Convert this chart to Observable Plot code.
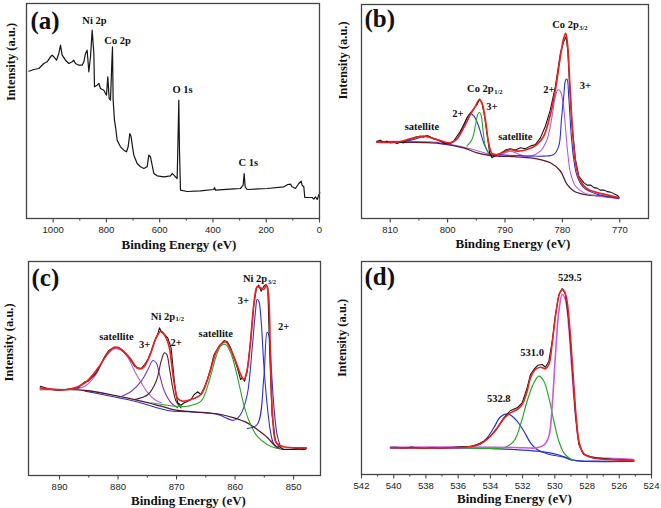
<!DOCTYPE html>
<html><head><meta charset="utf-8">
<script src="https://cdn.jsdelivr.net/npm/d3@7"></script>
<script src="https://cdn.jsdelivr.net/npm/@observablehq/plot@0.6"></script>
<style>
body{margin:0;background:#fff;}
#wrap{position:relative;width:661px;height:508px;background:#fff;overflow:hidden;}
#wrap svg{position:absolute;}
</style></head><body><div id="wrap"></div>
<script>
// ---------- Panel (a): survey spectrum [BE, intensity] ----------
const survey = [[1091.2,147.3],[1072.5,149],[1053.7,150],[1034.9,155],[1022.4,156.7],[1009.9,161.7],[1003.6,163.3],[997.4,161.7],[987.4,158.3],[978.6,165],[972.4,173.3],[966.1,163.3],[953.6,158.3],[941.1,155],[928.6,156.7],[922.3,158.3],[916.1,155],[903.5,153.3],[891.0,153.3],[884.8,156.7],[878.5,165],[872.3,168.3],[866.0,146.7],[859.7,161.7],[853.5,188.3],[847.2,165],[844.7,131.7],[834.7,133.3],[828.5,135],[822.2,130],[809.7,128.3],[799.7,123.3],[794.7,141.7],[789.7,120],[784.7,118.3],[779.7,155],[777.2,171.7],[774.7,118.3],[769.7,98.3],[765.9,91.7],[759.6,78.3],[747.1,71.7],[734.6,68.3],[724.6,66.7],[718.4,71.7],[712.1,85],[707.1,81.7],[702.1,71.7],[697.1,63.3],[684.6,55],[672.1,51.7],[659.5,50],[647.0,51.7],[640.8,63.3],[634.5,61.7],[628.3,53.3],[622.0,45],[609.5,42.7],[584.5,41.7],[559.4,42.7],[553.2,45],[546.9,43.3],[534.4,40],[530.7,85],[528.2,118.3],[525.7,68.3],[521.9,28.3],[496.9,27],[446.8,27.7],[396.8,29],[394.3,31],[390.5,28.3],[321.7,29.7],[296.7,30],[286.7,33.3],[282.9,45],[279.1,31.7],[271.6,29],[196.5,30],[134.0,31.7],[118.9,34],[109.0,34.3],[102.7,31.7],[90.2,30],[77.7,35],[68.9,37.3],[65.2,33.3],[58.9,31.7],[55.2,21],[27.6,21],[21.4,19.3],[15.1,21.7],[8.9,19],[2.6,23.3],[-1.1,25.7]];
const aLabels = [{x:845,y:198,t:"Ni 2p"},{x:758,y:178,t:"Co 2p"},{x:514,y:129,t:"O 1s"},{x:267,y:56,t:"C 1s"}];
const aMajor = [1000,800,600,400,200,0], aMinor = [900,700,500,300,100];

// ---------- Panel (b): Co 2p ----------
const bData = [[812.33,77.7],[811.74,78.7],[811.16,76.7],[810.58,77.7],[810,76],[809.42,77],[808.84,75.3],[808.26,76.7],[807.67,76],[807.09,78.7],[806.51,79.3],[805.93,81],[805.35,82],[804.77,82.7],[804.19,81.7],[803.60,83.3],[803.02,82],[802.44,80],[801.86,79.3],[801.28,77.7],[800.70,76],[800.12,75.3],[799.53,76],[798.95,77.7],[798.37,82.7],[797.79,87.7],[797.21,93.3],[796.63,101],[796.05,106],[795.47,110],[794.88,114.3],[794.42,120],[794.01,116],[793.60,104.3],[793.14,86],[792.67,66],[792.27,61],[791.69,63.3],[790.81,65.3],[789.94,68.7],[789.07,70],[788.20,68.7],[787.33,71],[786.45,70],[785.58,72.7],[784.71,74.3],[783.84,81],[782.97,92.7],[782.09,109.3],[781.22,132.7],[780.35,166],[779.77,177.7],[779.36,182.7],[779.07,169.3],[778.72,132.7],[778.31,92.7],[777.73,59.3],[777.15,42.7],[776.28,36],[775.70,33.5],[775.12,33.7],[774.5,31],[773.95,30.5],[773.4,28.5],[772.79,28.7],[772.2,27],[771.63,26.5],[770.47,23.3],[770.17,22]];
const bFit = [[812.33,76.7],[808.84,76.7],[806.51,80],[804.19,82.7],[801.86,79.3],[799.53,76],[798.37,80],[797.21,91],[796.05,104.3],[795.17,112.7],[794.48,119.3],[794.01,116],[793.43,99.3],[792.85,76],[792.27,65.3],[791.40,64.3],[790.23,66.7],[789.07,69.3],[787.91,67.7],[786.16,69.3],[784.42,74.3],[783.26,82.7],[782.09,104.3],[781.22,129.3],[780.35,162.7],[779.77,181],[779.42,186],[779.07,172.7],[778.72,136],[778.20,86],[777.62,52.7],[776.86,37.7],[775.70,30],[773.95,26],[772.21,23.7],[770.17,21]];
const bBg = [[812.33,76.7],[801.28,75.3],[797.21,71],[794.88,66],[792.56,63.3],[787.91,62],[784.42,60],[782.09,56],[780.35,47.7],[779.19,34.3],[778.02,27.7],[776.28,24.3],[773.37,22.7],[770.17,21]];
const bBgViolet = [[812.33,77.3],[801.28,76],[796.05,70],[792.56,64]];
const bSat1 = [[808.84,76],[805.93,79.3],[803.90,82.7],[801.86,79.3],[800.12,75.3]];
const bSat2 = [[791.40,62.7],[790.23,65.3],[789.07,67.7],[787.91,65.3],[786.74,62.7]];
const bP12two = [[801.28,75.3],[799.53,75.3],[798.37,80],[797.21,94.3],[796.05,105.3],[795.47,103.3],[794.59,92.7],[793.72,76],[792.85,66],[791.98,62.7]];
const bP12three = [[796.63,72.7],[795.76,79.3],[795.17,92.7],[794.77,104.3],[794.48,106.7],[794.19,104.3],[793.84,89.3],[793.43,72.7],[792.85,65.3]];
const bP32two = [[787.91,62.7],[785.58,62.7],[783.84,67.7],[782.67,79.3],[781.80,102.7],[781.22,122.7],[780.76,129.3],[780.35,127.7],[779.88,116],[779.48,92.7],[779.07,66],[778.60,46],[777.73,32.7],[776.28,26],[773.95,22.7],[770.17,20.3]];
const bP32three = [[792.56,64.3],[787.91,63.3],[783.26,62.7],[781.51,64.3],[780.64,72.7],[780.17,99.3],[779.77,122.7],[779.42,139.3],[779.19,140],[778.90,122.7],[778.49,86],[778.02,59.3],[777.44,42.7],[776.28,31],[773.95,24.3],[770.17,20]];
const bLabels = [{x:804.48,y:92.7,t:"satellite"},{x:798.2,y:105.3,t:"2+"},{x:792.27,y:112.7,t:"3+"},{x:788.2,y:82,t:"satellite"},{x:782.38,y:129.3,t:"2+"},{x:775.99,y:133.3,t:"3+"}];
const bSubLabels = [{x:791.98,y:130,t:"Co 2p",s:"1/2"},{x:777.15,y:194.3,t:"Co 2p",s:"3/2"}];
const bMajor = [810,800,790,780,770], bMinor = [805,795,785,775];

// ---------- Panel (c): Ni 2p ----------
const cData = [[893.28,89.3],[892.43,87.7],[891.30,86],[890.17,85],[889.04,86],[887.91,87],[886.78,87.7],[886.21,91],[885.64,93.7],[885.08,94.3],[884.51,97.7],[883.95,101],[883.38,106],[882.81,112.7],[882.25,119.3],[881.68,124.3],[881.12,126.7],[880.55,127.7],[879.99,128.3],[879.42,126],[878.85,122.7],[878.29,119.3],[877.72,114.3],[877.16,109.3],[876.59,107.7],[876.03,107],[875.46,111],[874.89,116],[874.33,124.3],[873.76,134.3],[873.20,141.7],[872.91,147.7],[872.63,143.7],[872.07,141],[871.50,137.7],[870.93,127.7],[870.65,111],[870.37,94.3],[870.08,81],[869.80,72.7],[869.24,70.3],[868.67,72.7],[868.10,74.3],[867.54,76],[866.97,81],[866.41,83.7],[865.84,81],[865.28,87.7],[864.71,96],[864.14,107.7],[863.58,121],[862.73,129.3],[861.88,135],[861.32,133.7],[860.75,127.7],[860.18,117.7],[859.62,107.7],[859.05,96],[858.77,97.7],[858.37,94.3],[857.92,104.3],[857.35,134.3],[856.79,171],[856.34,187.7],[855.94,190.3],[855.54,184.3],[855.09,189.3],[854.70,191],[854.41,187.7],[854.07,121],[853.68,61],[853.11,34.3],[852.55,29.3],[851.70,26],[850.57,26],[849.43,27],[848.30,26],[847.85,26.7]];
const cFit = [[893.28,87.7],[888.47,86],[885.64,92.7],[883.38,107.7],[881.68,122.7],[880.55,128.3],[879.42,126],[878.01,117.7],[876.59,107],[875.74,107.7],[874.61,119.3],[873.48,137.7],[872.63,144.3],[871.78,137.7],[871.22,127.7],[870.82,111],[870.37,91],[869.80,77],[868.95,74.3],[867.54,76],[865.84,81],[864.43,101],[863.30,122.7],[862.44,131],[861.60,133.7],[860.75,126],[859.90,114.3],[859.05,101],[858.49,96],[857.92,106],[857.35,134.3],[856.79,171],[856.22,188.7],[855.66,187.7],[855.09,186],[854.70,190.3],[854.36,184.3],[853.96,121],[853.56,57.7],[852.94,32.7],[851.70,28.7],[847.85,27.7]];
const cSat1 = [[893.28,86],[888.47,86],[885.64,89.3],[883.95,99.3],[882.25,117.7],[880.55,126.7],[879.42,125],[878.29,117.7],[877.16,104.3],[876.03,92.7],[874.89,82.7],[873.76,76],[872.63,72.7]];
const cP12three = [[879.99,77.7],[877.72,84.3],[876.03,94.3],[874.89,106],[874.05,115],[873.48,112.7],[872.91,101],[872.07,84.3],[870.93,72.7],[869.80,67.7]];
const cP12two = [[877.16,76],[874.89,81],[873.48,94.3],[872.63,114.3],[872.07,122.7],[871.67,121],[871.22,107.7],[870.65,87.7],[870.08,74.3],[869.24,67.7]];
const cSat2 = [[874.33,72.7],[870.37,69.3],[868.10,69.3],[865.84,74.3],[864.43,94.3],[863.30,117.7],[862.44,129.3],[861.60,131],[860.75,122.7],[859.90,106],[859.05,84.3],[858.20,64.3],[857.35,51],[856.22,39.3],[854.52,31],[852.83,27]];
const cP32three = [[885.64,84.3],[877.16,74.3],[871.50,65],[868.10,63.7],[863.01,61],[860.18,55.3],[859.05,61],[857.92,81],[857.07,127.7],[856.51,164.3],[856.22,176],[855.94,174.3],[855.54,154.3],[855.09,111],[854.52,71],[853.96,44.3],[853.39,31.7],[852.55,27.7]];
const cP32two = [[857.92,47],[856.22,51],[855.09,97.7],[854.52,143.3],[854.24,141],[853.85,111],[853.39,71],[852.83,41],[852.26,29.3]];
const cBg = [[893.28,86],[885.64,85],[879.99,79.3],[876.03,74.3],[872.63,69.3],[869.80,65],[866.97,63.7],[863.01,61.7],[860.18,57.7],[857.92,52.7],[856.22,46],[854.52,38.3],[853.39,31],[852.55,27],[847.85,27]];
const cLabels = [{x:880.27,y:139.3,t:"satellite"},{x:875.46,y:131,t:"3+"},{x:870.08,y:132.7,t:"2+"},{x:863.30,y:141.7,t:"satellite"},{x:858.60,y:175,t:"3+"},{x:851.70,y:149.3,t:"2+"}];
const cSubLabels = [{x:870.25,y:159.3,t:"Ni 2p",s:"1/2"},{x:854.52,y:197,t:"Ni 2p",s:"3/2"}];
const cMajor = [890,880,870,860,850], cMinor = [885,875,865,855];

// ---------- Panel (d): O 1s ----------
const dData = [[540.20,27.3],[539.79,27.3],[539.5,26.5],[539.17,26.7],[538.9,27.5],[538.54,26.7],[538.1,26],[537.72,26.7],[537.10,26.3],[536.48,27],[535.65,28],[535.23,28.3],[534.82,30],[534.41,33.3],[533.99,38.3],[533.58,46.7],[533.17,56.7],[532.75,64],[532.34,66.7],[532.03,71.7],[531.72,86.7],[531.51,100],[531.30,105],[531.05,109.3],[530.79,110],[530.58,107.3],[530.37,113.3],[530.16,133.3],[529.96,160],[529.75,180],[529.54,186],[529.34,180],[529.13,153.3],[528.92,106.7],[528.72,60],[528.51,30],[528.20,20],[527.79,17.7],[527.37,16.7],[526.34,15],[525.30,14.3],[525.10,14]];
const dFit = [[540.20,26.7],[535.65,27.3],[534.82,29.3],[534.41,32.7],[533.99,38.3],[533.58,46],[533.17,55.7],[532.75,61.7],[532.34,65],[532.03,70],[531.72,83.3],[531.51,96.7],[531.20,105],[530.89,107.3],[530.58,105.7],[530.37,110],[530.16,131.7],[529.96,158.3],[529.69,181.7],[529.50,185],[529.30,178.3],[529.09,150],[528.88,103.3],[528.67,56.7],[528.47,30],[528.20,20.7],[527.68,16.7],[526.75,15],[525.10,14]];
const dP1 = [[540.20,26.7],[536.68,26.7],[535.23,27.3],[534.61,30.7],[534.20,36.7],[533.79,46.7],[533.37,57.7],[532.96,60.7],[532.65,58.3],[532.34,53.3],[531.92,43.3],[531.51,31.7],[531.10,25],[530.48,20.7],[529.44,17.3],[528.82,14],[525.10,13.3]];
const dP2 = [[535.65,26.7],[533.99,26],[533.17,26.7],[532.54,33.3],[532.13,50],[531.72,73.3],[531.30,91.7],[530.99,98.3],[530.68,93.3],[530.37,76.7],[530.06,53.3],[529.75,33.3],[529.44,21.7],[529.13,16.7],[528.82,14]];
const dP3 = [[540.20,27.3],[533.58,27.3],[531.92,26.7],[531.10,26.7],[530.68,29.3],[530.37,38.3],[530.16,70],[529.96,120],[529.75,163.3],[529.54,180],[529.34,175],[529.13,146.7],[528.92,100],[528.72,60],[528.51,33.3],[528.20,20.7],[527.68,17.3],[526.34,16],[525.10,15]];
const dBg = [[540.20,26.7],[535.65,26.7],[532.54,25],[531.10,23.3],[529.85,20],[528.82,14.3],[527.37,13.3],[525.10,13.3]];
const dLabels = [{x:533.48,y:76,t:"532.8"},{x:531.41,y:121.7,t:"531.0"},{x:529.07,y:196.7,t:"529.5"}];
const dMajor = [542,540,538,536,534,532,530,528,526,524], dMinor = [541,539,537,535,533,531,529,527,525];

// ---------- drawing ----------
const SERIF = "'Liberation Serif','Times New Roman',serif";
const SANS = "'Liberation Sans',Arial,sans-serif";
const C = {red:"#e8231f", black:"#151515", blue:"#2b33c8", green:"#2aa52a", violet:"#b35ce0", dviolet:"#7436c8", maroon:"#5b1830", magenta:"#c95ad8", lav:"#8c7ad8"};

function line(data, color, w = 1.1, curve = "catmull-rom") {
  return Plot.line(data, {x: d => d[0], y: d => d[1], stroke: color, strokeWidth: w, curve});
}
function labels(arr) {
  return Plot.text(arr, {x: "x", y: "y", text: "t", fontFamily: SERIF, fontWeight: "bold", fontSize: 10.5, fill: "#111", lineAnchor: "middle"});
}
function subLabels(arr) {
  return [
    Plot.text(arr, {x: "x", y: "y", text: "t", textAnchor: "end", fontFamily: SERIF, fontWeight: "bold", fontSize: 10.5, fill: "#111", lineAnchor: "middle"}),
    Plot.text(arr, {x: "x", y: "y", text: "s", textAnchor: "start", dx: 0.5, dy: 3, fontFamily: SERIF, fontWeight: "bold", fontSize: 6.5, fill: "#111", lineAnchor: "middle"})
  ];
}

function panel(p) {
  const [mt, mr, mb, ml] = p.margins;
  const marks = [
    ...p.layers,
    Plot.frame({stroke: "#444", strokeWidth: 1.3}),
    Plot.axisX({ticks: p.minor, tickSize: 2.5, tickFormat: () => "", stroke: "#444", strokeWidth: 1.1, label: null}),
    Plot.axisX({ticks: p.major, tickSize: 4.5, tickPadding: 3, tickFormat: d => String(d), fontSize: 9.5, fontFamily: SANS, stroke: "#444", strokeWidth: 1.1, fill: "#222", label: null}),
    Plot.text([p.tag], {text: d => d, frameAnchor: "top-left", textAnchor: "start", lineAnchor: "middle", dx: p.tagPos[0], dy: p.tagPos[1], fontFamily: SERIF, fontWeight: "bold", fontSize: 25, fill: "#111"}),
    Plot.text(["Intensity (a.u.)"], {text: d => d, frameAnchor: "left", rotate: -90, lineAnchor: "middle", dx: p.yLab[0], dy: p.yLab[1], fontFamily: SERIF, fontWeight: "bold", fontSize: 12.5, fill: "#111"}),
    Plot.text(["Binding Energy (eV)"], {text: d => d, frameAnchor: "bottom", lineAnchor: "middle", dx: p.xLab[0], dy: p.xLab[1], fontFamily: SERIF, fontWeight: "bold", fontSize: 13, fill: "#111"})
  ];
  const svg = Plot.plot({
    width: p.width, height: p.height,
    marginTop: mt, marginRight: mr, marginBottom: mb, marginLeft: ml,
    x: {domain: p.xDomain, axis: null},
    y: {domain: p.yDomain, axis: null},
    style: {background: "transparent", overflow: "visible"},
    marks
  });
  svg.style.left = p.left + "px";
  svg.style.top = p.top + "px";
  document.getElementById("wrap").appendChild(svg);
}

panel({
  left: 0, top: 0, width: 330, height: 254, margins: [3, 11, 36, 26],
  xDomain: [1100, 0], yDomain: [0, 215], major: aMajor, minor: aMinor,
  tag: "(a)", tagPos: [4, 17], yLab: [-16, -10], xLab: [6, 26],
  layers: [line(survey, C.black, 1.2, "linear"), labels(aLabels)]
});

panel({
  left: 330, top: 0, width: 331, height: 254, margins: [4, 13, 36, 31],
  xDomain: [815, 765], yDomain: [0, 215], major: bMajor, minor: bMinor,
  tag: "(b)", tagPos: [3, 14], yLab: [-19, -12], xLab: [8, 25],
  layers: [
    line(bBgViolet, C.violet), line(bBg, C.maroon, 1.3),
    line(bSat1, C.blue), line(bSat2, C.violet),
    line(bP12two, C.blue), line(bP12three, C.green),
    line(bP32two, C.violet), line(bP32three, C.blue),
    line(bData, C.black, 1.1, "linear"), line(bFit, C.red, 1.7),
    labels(bLabels), ...subLabels(bSubLabels)
  ]
});

panel({
  left: 0, top: 254, width: 330, height: 254, margins: [7, 10, 33, 28],
  xDomain: [895.3, 845.4], yDomain: [0, 214], major: cMajor, minor: cMinor,
  tag: "(c)", tagPos: [3, 16], yLab: [-20, 13], xLab: [14, 25],
  layers: [
    line(cP32three, C.blue), line(cBg, C.maroon, 1.3),
    line(cSat1, C.violet), line(cP12three, C.dviolet), line(cP12two, C.maroon),
    line(cSat2, C.green), line(cP32two, C.blue),
    line(cData, C.black, 1.1, "linear"), line(cFit, C.red, 1.7),
    labels(cLabels), ...subLabels(cSubLabels)
  ]
});

panel({
  left: 330, top: 254, width: 331, height: 254, margins: [7, 10, 34, 31],
  xDomain: [542, 524], yDomain: [0, 213], major: dMajor, minor: dMinor,
  tag: "(d)", tagPos: [3, 15], yLab: [-20, 9], xLab: [8, 24],
  layers: [
    line(dBg, C.blue, 1.2), line(dP1, C.blue, 1.2), line(dP2, C.green, 1.2), line(dP3, C.magenta, 1.6),
    line(dData, C.black, 1.1, "linear"), line(dFit, C.red, 1.6),
    labels(dLabels)
  ]
});
</script></body></html>
